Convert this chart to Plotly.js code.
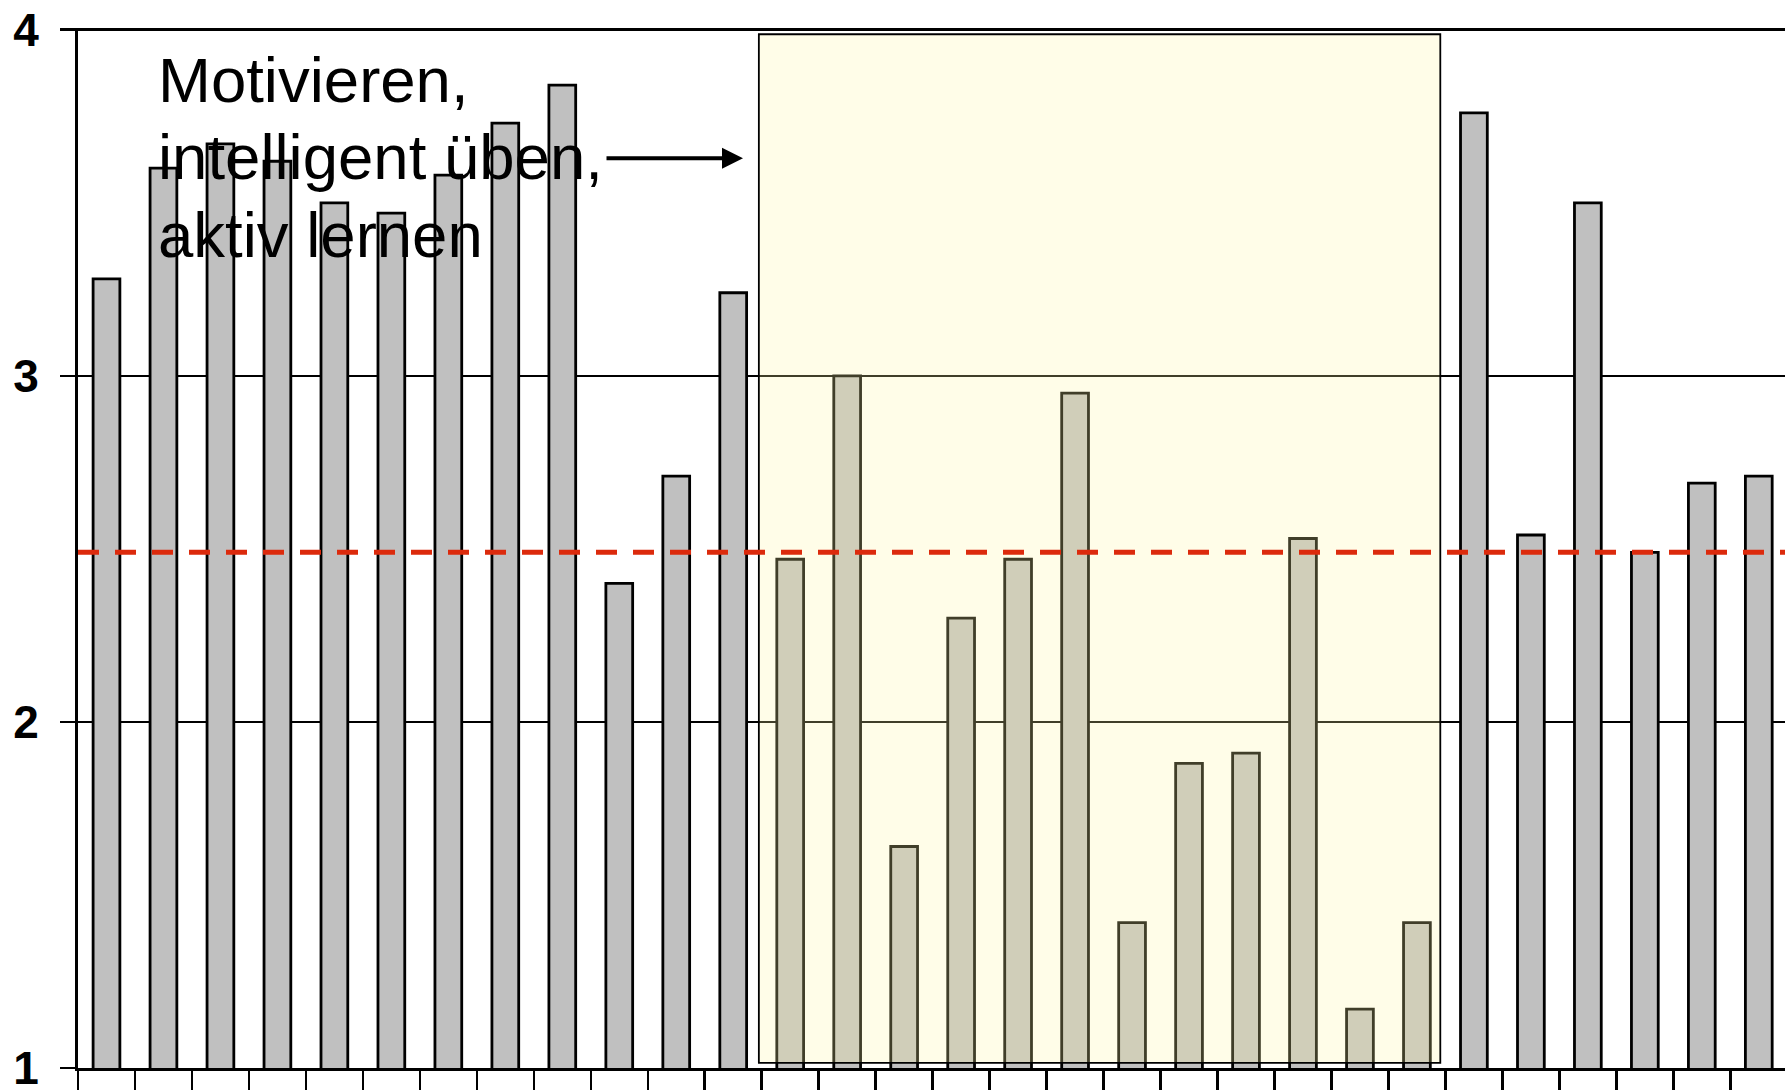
<!DOCTYPE html>
<html>
<head>
<meta charset="utf-8">
<script src="https://cdn.plot.ly/plotly-3.0.1.min.js"></script>
<style>
  html, body { margin: 0; padding: 0; background: #ffffff; }
  #chart { width: 1785px; height: 1090px; }
</style>
</head>
<body>
<div id="chart"></div>
<script>
// ---- data ----
const categories = ['1','2','3','4','5','6','7','8','9','10','11','12','13','14','15',
                    '16','17','18','19','20','21','22','23','24','25','26','27','28','29','30'];
const scores = [3.28, 3.60, 3.67, 3.62, 3.50, 3.47, 3.58, 3.73, 3.84, 2.40,
                2.71, 3.24, 2.47, 3.00, 1.64, 2.30, 2.47, 2.95, 1.42, 1.88,
                1.91, 2.53, 1.17, 1.42, 3.76, 2.54, 3.50, 2.49, 2.69, 2.71];
const meanValue = 2.49;
const yTickValues = [1, 2, 3, 4];
const yTickLabels = ['1', '2', '3', '4'];
const highlightFirst = '13';
const highlightLast = '24';
const noteLines = ['Motivieren,', 'intelligent üben,', 'aktiv lernen'];

// ---- layout helpers ----
const W = 1785, H = 1090;
const M = {l: 78, r: 0, t: 28, b: 22};
const plotH = H - M.t - M.b;
const plotW = W - M.l - M.r;
const yPaper = px => (H - M.b - px) / plotH;
const xPaper = px => (px - M.l) / plotW;

const iFirst = categories.indexOf(highlightFirst);
const iLast = categories.indexOf(highlightLast);

const font = 'Liberation Sans, Arial, Helvetica, sans-serif';

const trace = {
  type: 'bar',
  x: categories,
  y: scores,
  width: 0.47,
  marker: { color: '#c0c0c0', line: { color: '#000000', width: 2.8 } },
  hoverinfo: 'x+y'
};

const annotations = noteLines.map((t, k) => ({
  xref: 'paper', yref: 'paper',
  x: xPaper(156), y: yPaper(79.5 + k * 77.6),
  xanchor: 'left', yanchor: 'middle',
  text: t, showarrow: false,
  font: { family: font, size: 63.5, color: '#000000' }
}));
annotations.push({
  xref: 'paper', yref: 'paper',
  x: xPaper(743), y: yPaper(158.3),
  ax: -138, ay: 0, axref: 'pixel', ayref: 'pixel',
  text: '', showarrow: true,
  arrowhead: 2, arrowsize: 1.05, arrowwidth: 4, arrowcolor: '#000000'
});

const layout = {
  width: W, height: H,
  margin: M,
  paper_bgcolor: '#ffffff',
  plot_bgcolor: '#ffffff',
  showlegend: false,
  xaxis: {
    type: 'category',
    range: [-0.5, 29.46],
    showticklabels: false,
    ticks: 'outside', tickson: 'boundaries',
    ticklen: 30, tickwidth: 2.5, tickcolor: '#000000',
    showline: true, linecolor: '#000000', linewidth: 3,
    showgrid: false, zeroline: false, fixedrange: true
  },
  yaxis: {
    range: [1, 4.005],
    tickmode: 'array', tickvals: yTickValues, ticktext: yTickLabels,
    ticks: 'outside', ticklen: 15, tickwidth: 2.5, tickcolor: '#000000',
    ticklabelstandoff: 12,
    ticklabeloverflow: 'allow',
    tickfont: { family: font, size: 46, color: '#000000', weight: 'bold' },
    showline: true, linecolor: '#000000', linewidth: 3,
    showgrid: true, gridcolor: '#000000', gridwidth: 2.5,
    zeroline: false, fixedrange: true
  },
  shapes: [
    {
      type: 'rect', xref: 'x', yref: 'y', layer: 'above',
      x0: iFirst - 0.55, x1: iLast + 0.41, y0: 1.015, y1: 3.987,
      fillcolor: 'rgba(255,247,164,0.25)',
      line: { color: '#000000', width: 1.8 }
    },
    {
      type: 'line', xref: 'paper', yref: 'y', layer: 'above',
      x0: 0, x1: 1, y0: meanValue, y1: meanValue,
      line: { color: '#dc2a0c', width: 5, dash: '21px,16px' }
    }
  ],
  annotations: annotations
};

Plotly.newPlot('chart', [trace], layout, { displayModeBar: false, staticPlot: true });
</script>
</body>
</html>
